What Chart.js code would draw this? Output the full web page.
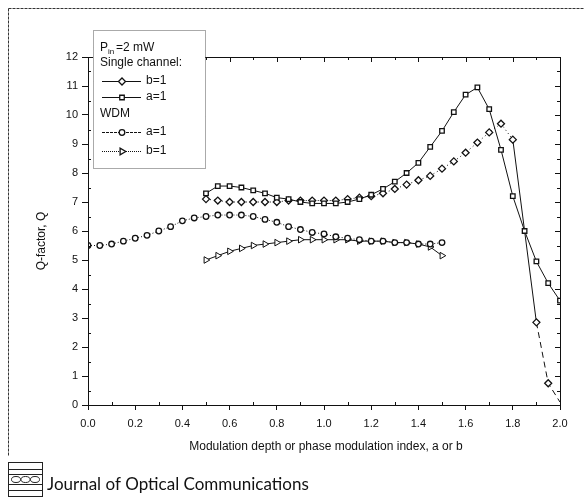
<!DOCTYPE html>
<html>
<head>
<meta charset="utf-8">
<script src="https://cdn.jsdelivr.net/npm/chart.js@4.4.1/dist/chart.umd.min.js"></script>
<style>
  body { margin: 0; background: #fff; }
  #wrap { position: relative; width: 584px; height: 500px; }
</style>
</head>
<body>
<div id="wrap"><canvas id="qChart"></canvas></div>
<script>
// Q-factor vs modulation depth / phase modulation index

const xTickValues = [0.0, 0.2, 0.4, 0.6, 0.8, 1.0, 1.2, 1.4, 1.6, 1.8, 2.0];
const xTickLabels = ['0.0', '0.2', '0.4', '0.6', '0.8', '1.0', '1.2', '1.4', '1.6', '1.8', '2.0'];
const yTickValues = [0, 1, 2, 3, 4, 5, 6, 7, 8, 9, 10, 11, 12];

// Single channel, b=1 (diamonds)
const singleB_x = [0.5, 0.55, 0.6, 0.65, 0.7, 0.75, 0.8, 0.85, 0.9, 0.95,
                   1.0, 1.05, 1.1, 1.15, 1.2, 1.25, 1.3, 1.35, 1.4, 1.45,
                   1.5, 1.55, 1.6, 1.65, 1.7, 1.75, 1.8, 1.9, 1.95, 2.0];
const singleB_q = [7.1, 7.05, 7.0, 7.0, 7.0, 7.0, 7.0, 7.05, 7.05, 7.05,
                   7.05, 7.05, 7.1, 7.15, 7.2, 7.3, 7.45, 7.6, 7.75, 7.9,
                   8.15, 8.4, 8.7, 9.05, 9.4, 9.7, 9.15, 2.85, 0.75, 0.1];

// Single channel, a=1 (squares)
const singleA_x = [0.5, 0.55, 0.6, 0.65, 0.7, 0.75, 0.8, 0.85, 0.9, 0.95,
                   1.0, 1.05, 1.1, 1.15, 1.2, 1.25, 1.3, 1.35, 1.4, 1.45,
                   1.5, 1.55, 1.6, 1.65, 1.7, 1.75, 1.8, 1.85, 1.9, 1.95, 2.0];
const singleA_q = [7.3, 7.55, 7.55, 7.5, 7.4, 7.3, 7.15, 7.1, 7.0, 6.95,
                   6.95, 6.95, 7.0, 7.1, 7.25, 7.45, 7.7, 8.0, 8.35, 8.9,
                   9.45, 10.1, 10.7, 10.95, 10.2, 8.8, 7.2, 6.0, 4.95, 4.2, 3.6];

// WDM, a=1 (circles)
const wdmA_x = [0.0, 0.05, 0.1, 0.15, 0.2, 0.25, 0.3, 0.35, 0.4, 0.45,
                0.5, 0.55, 0.6, 0.65, 0.7, 0.75, 0.8, 0.85, 0.9, 0.95,
                1.0, 1.05, 1.1, 1.15, 1.2, 1.25, 1.3, 1.35, 1.4, 1.45, 1.5];
const wdmA_q = [5.5, 5.5, 5.55, 5.65, 5.75, 5.85, 6.0, 6.15, 6.35, 6.45,
                6.5, 6.55, 6.55, 6.55, 6.5, 6.4, 6.3, 6.15, 6.05, 5.95,
                5.9, 5.8, 5.75, 5.7, 5.65, 5.65, 5.6, 5.6, 5.55, 5.55, 5.6];

// WDM, b=1 (triangles)
const wdmB_x = [0.5, 0.55, 0.6, 0.65, 0.7, 0.75, 0.8, 0.85, 0.9, 0.95,
                1.0, 1.05, 1.1, 1.15, 1.2, 1.25, 1.3, 1.35, 1.4, 1.45, 1.5];
const wdmB_q = [5.0, 5.15, 5.3, 5.4, 5.5, 5.55, 5.6, 5.65, 5.7, 5.7,
                5.7, 5.7, 5.7, 5.65, 5.65, 5.65, 5.6, 5.6, 5.55, 5.45, 5.15];

function toPoints(xs, ys) {
    return xs.map((x, i) => ({ x: x, y: ys[i] }));
}

const INK = '#111';
Chart.defaults.font.family = "'Liberation Sans', Arial, sans-serif";
Chart.defaults.color = INK;

// frame, minor ticks, legend box, titles and the journal footer
const decorPlugin = {
    id: 'decor',
    afterDraw(chart) {
        const ctx = chart.ctx;
        const a = chart.chartArea;
        const xs = chart.scales.x, ys = chart.scales.y;
        ctx.save();

        // plot box
        ctx.strokeStyle = INK;
        ctx.lineWidth = 1;
        ctx.strokeRect(a.left + 0.5, a.top + 0.5, a.right - a.left, a.bottom - a.top);

        // inward ticks on top/right, minor ticks everywhere
        ctx.beginPath();
        for (let i = 0; i <= 20; i++) {
            const px = Math.round(xs.getPixelForValue(i / 10)) + 0.5;
            const len = i % 2 === 0 ? 5 : 3;
            ctx.moveTo(px, a.top); ctx.lineTo(px, a.top + len);
            if (i % 2) { ctx.moveTo(px, a.bottom); ctx.lineTo(px, a.bottom - len); }
        }
        for (let i = 0; i <= 24; i++) {
            const py = Math.round(ys.getPixelForValue(i / 2)) + 0.5;
            const len = i % 2 === 0 ? 5 : 3;
            ctx.moveTo(a.right, py); ctx.lineTo(a.right - len, py);
            if (i % 2) { ctx.moveTo(a.left, py); ctx.lineTo(a.left + len, py); }
        }
        ctx.stroke();

        // outer figure frame (scanned page edge)
        ctx.strokeStyle = '#333';
        ctx.setLineDash([3, 1]);
        ctx.beginPath();
        ctx.moveTo(8.5, 8.5); ctx.lineTo(584, 8.5);
        ctx.moveTo(8.5, 8.5); ctx.lineTo(8.5, 456);
        ctx.stroke();
        ctx.setLineDash([]);

        // axis titles
        ctx.fillStyle = INK;
        ctx.font = "12px 'Liberation Sans', Arial, sans-serif";
        ctx.textAlign = 'center';
        ctx.textBaseline = 'middle';
        ctx.fillText('Modulation depth or phase modulation index, a or b', 326, 447);
        ctx.save();
        ctx.translate(42, 241);
        ctx.rotate(-Math.PI / 2);
        ctx.fillText('Q-factor, Q', 0, 0);
        ctx.restore();

        // legend box
        const lx = 93, ly = 30, lw = 112, lh = 138;
        ctx.fillStyle = '#fff';
        ctx.fillRect(lx, ly, lw, lh);
        ctx.strokeStyle = '#555';
        ctx.setLineDash([1, 1]);
        ctx.strokeRect(lx + 0.5, ly + 0.5, lw, lh);
        ctx.setLineDash([]);

        ctx.fillStyle = INK;
        ctx.textAlign = 'left';
        ctx.font = "12px 'Liberation Sans', Arial, sans-serif";
        ctx.fillText('P', 100, 48);
        ctx.font = "8px 'Liberation Sans', Arial, sans-serif";
        ctx.fillText('in', 108, 52);
        ctx.font = "12px 'Liberation Sans', Arial, sans-serif";
        ctx.fillText('=2 mW', 116, 48);
        ctx.fillText('Single channel:', 100, 63);
        ctx.fillText('WDM', 100, 114);

        const rows = [
            { ds: 0, y: 81, text: 'b=1', dash: [], r: 3.5 },
            { ds: 1, y: 97, text: 'a=1', dash: [], r: 3.2 },
            { ds: 2, y: 132, text: 'a=1', dash: [3, 1], r: 2.8 },
            { ds: 3, y: 151, text: 'b=1', dash: [1, 1], r: 3.8 }
        ];
        rows.forEach(r => {
            const d = chart.data.datasets[r.ds];
            ctx.strokeStyle = INK;
            ctx.lineWidth = 1;
            ctx.setLineDash(r.dash);
            ctx.beginPath();
            ctx.moveTo(102, r.y + 0.5); ctx.lineTo(141, r.y + 0.5);
            ctx.stroke();
            ctx.setLineDash([]);
            ctx.fillStyle = '#fff';
            ctx.lineWidth = 1.3;
            Chart.helpers.drawPoint(ctx, {
                pointStyle: d.pointStyle,
                rotation: d.pointRotation || 0,
                radius: r.r,
                borderWidth: 1.3
            }, 122, r.y + 0.5);
            ctx.fillStyle = INK;
            ctx.fillText(r.text, 146, r.y);
        });

        // journal footer
        ctx.strokeStyle = '#222';
        ctx.lineWidth = 1;
        ctx.strokeRect(8.5, 462.5, 34, 34);
        ctx.beginPath();
        ctx.moveTo(9, 469.5); ctx.lineTo(42, 469.5);
        ctx.moveTo(9, 474.5); ctx.lineTo(42, 474.5);
        ctx.moveTo(9, 484.5); ctx.lineTo(42, 484.5);
        ctx.moveTo(9, 490.5); ctx.lineTo(42, 490.5);
        ctx.stroke();
        [16, 25.5, 35].forEach(cx => {
            ctx.beginPath();
            ctx.ellipse(cx, 479.5, 4.5, 3, 0, 0, Math.PI * 2);
            ctx.stroke();
        });
        ctx.fillStyle = '#111';
        ctx.font = "17px Lato, 'Noto Sans', sans-serif";
        ctx.textBaseline = 'alphabetic';
        ctx.fillText('Journal of Optical Communications', 47, 490);

        ctx.restore();
    }
};

const markerBase = {
    borderColor: INK,
    pointBorderColor: INK,
    pointBackgroundColor: '#fff',
    pointBorderWidth: 1.3,
    pointRadius: 3.2,
    borderWidth: 1,
    tension: 0,
    fill: false
};

const chart = new Chart(document.getElementById('qChart'), {
    type: 'line',
    data: {
        datasets: [
            Object.assign({}, markerBase, {
                label: 'Single channel b=1',
                data: toPoints(singleB_x, singleB_q),
                pointStyle: 'rectRot',
                pointRadius: ctx => (ctx.raw && ctx.raw.x > 1.97 ? 0 : 3.5),
                segment: {
                    borderDash: ctx => {
                        const x0 = ctx.p0.parsed.x;
                        if (x0 >= 1.89) return [6, 4];
                        if (x0 >= 1.79) return [];
                        return [1, 3];
                    }
                },
                order: 2
            }),
            Object.assign({}, markerBase, {
                label: 'Single channel a=1',
                data: toPoints(singleA_x, singleA_q),
                pointStyle: 'rect',
                order: 1
            }),
            Object.assign({}, markerBase, {
                label: 'WDM a=1',
                data: toPoints(wdmA_x, wdmA_q),
                pointStyle: 'circle',
                pointRadius: 2.8,
                borderDash: [1, 2],
                order: 3
            }),
            Object.assign({}, markerBase, {
                label: 'WDM b=1',
                data: toPoints(wdmB_x, wdmB_q),
                pointStyle: 'triangle',
                pointRotation: 90,
                pointRadius: 3.8,
                pointBorderWidth: 1,
                order: 4
            })
        ]
    },
    options: {
        responsive: true,
        maintainAspectRatio: false,
        animation: false,
        layout: { padding: { top: 57, right: 24, left: 0, bottom: 0 } },
        plugins: {
            legend: { display: false },
            tooltip: { enabled: false }
        },
        scales: {
            x: {
                type: 'linear',
                min: 0,
                max: 2,
                afterFit: scale => { scale.height = 95; },
                afterBuildTicks: scale => {
                    scale.ticks = xTickValues.map(v => ({ value: v }));
                },
                ticks: {
                    autoSkip: false,
                    maxRotation: 0,
                    padding: 7,
                    font: { size: 11 },
                    callback: (v, i) => xTickLabels[i]
                },
                grid: {
                    display: true,
                    drawOnChartArea: false,
                    drawTicks: true,
                    tickLength: 5,
                    color: INK
                },
                border: { display: true, color: INK, width: 1 }
            },
            y: {
                type: 'linear',
                min: 0,
                max: 12,
                afterFit: scale => { scale.width = 88; },
                afterBuildTicks: scale => {
                    scale.ticks = yTickValues.map(v => ({ value: v }));
                },
                ticks: {
                    autoSkip: false,
                    padding: 4,
                    font: { size: 11 },
                    callback: v => String(v)
                },
                grid: {
                    display: true,
                    drawOnChartArea: false,
                    drawTicks: true,
                    tickLength: 6,
                    color: INK
                },
                border: { display: true, color: INK, width: 1 }
            }
        }
    },
    plugins: [decorPlugin]
});
</script>
</body>
</html>
